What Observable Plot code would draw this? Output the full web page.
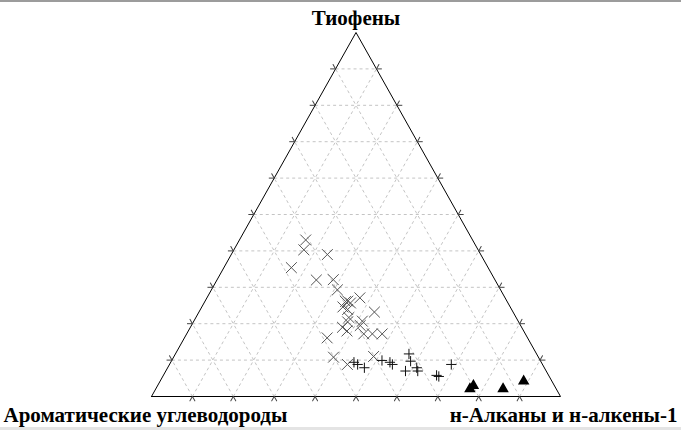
<!DOCTYPE html>
<html>
<head>
<meta charset="utf-8">
<script src="https://cdn.jsdelivr.net/npm/d3@7"></script>
<script src="https://cdn.jsdelivr.net/npm/@observablehq/plot@0.6"></script>
<style>
  html, body { margin: 0; padding: 0; background: #fff; }
  #wrap { width: 681px; border-top: 2px solid #9c9c9c; border-bottom: 3px solid #e4e4e4; }
  svg { display: block; }
</style>
</head>
<body>
<div id="wrap"></div>
<script>
// Corner labels (component names)
const labelTop = "Тиофены";
const labelLeft = "Ароматические углеводороды";
const labelRight = "н-Алканы и н-алкены-1";

// Grid / tick values (percent)
const gridValues = [10, 20, 30, 40, 50, 60, 70, 80, 90];

// Series: [aromatics, n-alkanes, thiophenes] in %
const crossSeries = [
  [40.8,16.2,43.0],[42.6,17.1,40.3],[37.5,23.5,39.0],[48.1,16.5,35.4],
  [43.7,24.3,32.0],[39.5,28.4,32.1],[39.9,30.8,29.3],[38.9,34.9,26.2],
  [38.5,35.8,25.7],[35.5,37.4,27.1],[40.9,34.5,24.6],[40.1,36.0,23.9],
  [40.9,37.4,21.7],[41.8,37.7,20.5],[38.1,41.2,20.7],[33.9,42.9,23.2],
  [43.8,37.2,19.0],[43.2,38.8,18.0],[39.5,43.3,17.2],[37.4,45.4,17.2],
  [35.0,47.8,17.2],[49.0,34.9,16.1],[50.1,39.1,10.8],[47.7,43.5,8.8],
  [40.2,48.8,11.0],[39.5,34.4,26.1],[39.2,41.3,19.5]
];
const plusSeries = [
  [45.8,44.8,9.4],[45.2,46.0,8.8],[44.0,48.1,7.9],[38.7,51.4,9.9],
  [37.0,53.6,9.4],[36.7,54.5,8.8],[31.2,57.1,11.7],[31.8,58.5,9.7],
  [31.2,60.9,7.9],[34.4,58.6,7.0],[31.4,61.6,7.0],[27.4,66.8,5.8],
  [27.0,67.5,5.5],[22.3,68.9,8.8]
];
const triangleSeries = [
  [21.1,76.8,2.1],[19.8,77.2,3.0],[13.0,84.9,2.1],[6.9,88.9,4.2]
];

// ternary -> cartesian (data units of the plot scales)
const tx = d => d[1] + d[2] / 2;
const ty = d => d[2];

// Triangle outline
const corners = [[100,0,0],[0,100,0],[0,0,100],[100,0,0]];

// Grid lines for each component
const gridLines = [];
for (const v of gridValues) {
  // constant thiophenes (horizontal)
  gridLines.push({a: [100 - v, 0, v], b: [0, 100 - v, v]});
  // constant alkanes
  gridLines.push({a: [100 - v, v, 0], b: [0, v, 100 - v]});
  // constant aromatics
  gridLines.push({a: [v, 100 - v, 0], b: [v, 0, 100 - v]});
}

// Edge tick marks (extensions of grid lines beyond the edges)
const W = 681, H = 425;
const mL = 151, mR = 121, mT = 30, mB = 31;
const pxW = W - mL - mR, pxH = H - mT - mB;
const angLeft = Math.atan2(pxW / 2, pxH) * 180 / Math.PI;   // direction of left edge
const ticks = [];
for (const v of gridValues) {
  // bottom edge
  ticks.push({p: [100 - v, v, 0], r: 180 + angLeft});
  ticks.push({p: [100 - v, v, 0], r: 180 - angLeft});
  // left edge
  ticks.push({p: [100 - v, 0, v], r: 270});
  ticks.push({p: [100 - v, 0, v], r: 360 - angLeft});
  // right edge
  ticks.push({p: [0, 100 - v, v], r: 90});
  ticks.push({p: [0, 100 - v, v], r: angLeft});
}
const lineShape = {draw(context, l) { context.moveTo(0, 0); context.lineTo(0, -l); }};

const serif = "'Liberation Serif', 'Times New Roman', serif";

const chart = Plot.plot({
  width: W,
  height: H,
  marginLeft: mL, marginRight: mR, marginTop: mT, marginBottom: mB,
  x: {domain: [0, 100], axis: null},
  y: {domain: [0, 100], axis: null},
  style: {background: "white", overflow: "visible"},
  marks: [
    Plot.link(gridLines, {
      x1: d => tx(d.a), y1: d => ty(d.a), x2: d => tx(d.b), y2: d => ty(d.b),
      stroke: "#c4c4c4", strokeWidth: 1, strokeDasharray: "3,3"
    }),
    Plot.line(corners, {x: tx, y: ty, stroke: "#000", strokeWidth: 1}),
    Plot.vector(ticks, {
      x: d => tx(d.p), y: d => ty(d.p), rotate: "r", length: 5,
      anchor: "start", shape: lineShape, stroke: "#444", strokeWidth: 1
    }),
    Plot.dot(crossSeries, {x: tx, y: ty, symbol: "times", r: 5, stroke: "#555", strokeWidth: 1}),
    Plot.dot(plusSeries, {x: tx, y: ty, symbol: "plus", r: 3.4, stroke: "#111", strokeWidth: 1}),
    Plot.dot(triangleSeries, {x: tx, y: ty, symbol: "triangle", r: 3.3, fill: "#000", stroke: "#000"}),
    Plot.text([labelTop], {
      x: 50, y: 100, text: d => d, dy: -8, lineAnchor: "bottom",
      fontFamily: serif, fontWeight: "bold", fontSize: 21, fill: "#000"
    }),
    Plot.text([labelLeft], {
      frameAnchor: "bottom-left", text: d => d, dx: -148, dy: 25, textAnchor: "start",
      lineAnchor: "bottom", fontFamily: serif, fontWeight: "bold", fontSize: 21, fill: "#000"
    }),
    Plot.text([labelRight], {
      frameAnchor: "bottom-right", text: d => d, dx: 117, dy: 25, textAnchor: "end",
      lineAnchor: "bottom", fontFamily: serif, fontWeight: "bold", fontSize: 21, fill: "#000"
    })
  ]
});
document.getElementById("wrap").appendChild(chart);
</script>
</body>
</html>
